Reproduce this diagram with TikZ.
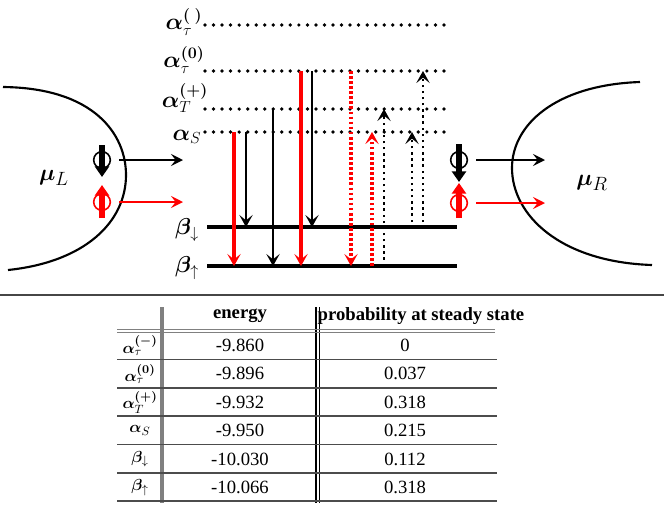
\documentclass[tikz,border=0pt]{standalone}
\usepackage{fontspec}
\setmainfont{Liberation Serif}
\usepackage{bm}
\usetikzlibrary{arrows.meta}
\definecolor{levred}{RGB}{255,0,0}
\definecolor{rulegray}{RGB}{128,128,128}
\definecolor{sepgray}{RGB}{70,70,70}

\begin{document}
\begin{tikzpicture}[x=0.75pt, y=-0.75pt, font=\fontsize{14}{16}\selectfont,
    lvdots/.style={line width=2.8pt, line cap=round, dash pattern=on 0pt off 6.4pt},
    lvline/.style={line width=3pt},
    downbk/.style={-{Stealth[length=9pt,width=10pt,inset=4pt]}, line width=1.9pt},
    downrd/.style={downbk, levred, line width=2.5pt},
    upbk/.style={downbk, line width=2.1pt, dash pattern=on 1.8pt off 2.8pt},
    uprd/.style={downrd, line width=2.3pt, dash pattern=on 2pt off 1.8pt},
    spinbk/.style={-{Triangle[length=8pt,width=10.5pt]}, line width=5pt},
    ring/.style={circle, draw, line width=1.2pt, minimum size=12.5pt, inner sep=0pt},
    tunnel/.style={-{Stealth[length=9pt,width=9pt,inset=3.5pt]}, line width=1.6pt},
    lead/.style={line width=1.6pt},
    lvlab/.style={font=\fontsize{17}{19}\selectfont, inner sep=0pt},
    hdr/.style={font=\fontsize{14}{16}\selectfont\bfseries, inner sep=0pt},
    cell/.style={inner sep=0pt}]
  \useasboundingbox (0,0) rectangle (664,504);
  % energy levels of the dot
  \draw[lvdots] (205,25) coordinate (aM) -- (450,25);
  \draw[lvdots] (205,71) coordinate (a0) -- (450,71);
  \draw[lvdots] (205,109) coordinate (aT) -- (450,109);
  \draw[lvdots] (205,132) coordinate (aS) -- (450,132);
  \draw[lvline] (207,227) coordinate (bD) -- (457,227);
  \draw[lvline] (207,266) coordinate (bU) -- (457,266);
  \node[lvlab] (lAM) at (184,22) {$\bm{\alpha}_{\tau}^{\bm{(\;)}}$};
  \node[lvlab] (lA0) at (184,60) {$\bm{\alpha}_{\tau}^{\bm{(0)}}$};
  \node[lvlab] (lAT) at (185,98) {$\bm{\alpha}_{T}^{\bm{(+)}}$};
  \node[lvlab] (lAS) at (187,137) {$\bm{\alpha}_{S}$};
  \node[lvlab] (lBD) at (187,230) {$\bm{\beta}_{\downarrow}$};
  \node[lvlab] (lBU) at (187,268) {$\bm{\beta}_{\uparrow}$};
  % relaxation (down)
  \draw[downrd] (234,0 |- aS) -- (234,0 |- bU);
  \draw[downbk] (246,0 |- aS) -- (246,0 |- bD);
  \draw[downbk] (273,0 |- aT) -- (273,0 |- bU);
  \draw[downrd] (301,0 |- a0) -- (301,0 |- bU);
  \draw[downbk] (312,0 |- a0) -- (312,0 |- bD);
  \draw[uprd]   (351,0 |- a0) -- (351,0 |- bU);
  % excitation (up)
  \draw[uprd] (372,0 |- bU) -- (372,0 |- aS);
  \draw[upbk] (384,0 |- bU) -- (384,0 |- aT);
  \draw[upbk] (412,222) -- (412,0 |- aS);
  \draw[upbk] (423,222) -- (423,0 |- a0);
  % left lead
  \draw[lead] (3,87) .. controls (95,88) and (126,135) .. (126,175)
    .. controls (126,222) and (85,262) .. (8,270);
  \node (muL) at (54,178) {\fontsize{19}{21}\selectfont$\bm{\mu}_{L}$};
  \node[ring] (rLd) at (102,160) {};
  \draw[spinbk] (102,145) -- (102,177);
  \node[ring, levred] (rLu) at (102,202) {};
  \draw[spinbk, levred] (102,218) -- (102,185);
  \coordinate (tLd) at (183,160);
  \coordinate (tLu) at (183,202);
  \draw[tunnel] ([xshift=6pt]rLd.east) -- (tLd);
  \draw[tunnel, levred] ([xshift=6pt]rLu.east) -- (tLu);
  % right lead
  \draw[lead] (640,82) .. controls (555,85) and (512,125) .. (512,168)
    .. controls (512,215) and (560,262) .. (652,265);
  \node (muR) at (592,183) {\fontsize{19}{21}\selectfont$\bm{\mu}_{R}$};
  \node[ring] (rRd) at (459,160) {};
  \draw[spinbk] (459,144) -- (459,182);
  \node[ring, levred] (rRu) at (459,203) {};
  \draw[spinbk, levred] (459,218) -- (459,183);
  \coordinate (tRd) at (545,160);
  \coordinate (tRu) at (545,203);
  \draw[tunnel] ([xshift=6pt]rRd.east) -- (tRd);
  \draw[tunnel, levred] ([xshift=6pt]rRu.east) -- (tRu);
  % separator
  \draw[sepgray, line width=1.5pt] (0,295) -- (664,295);
  % table
  \draw[rulegray, line width=2.5pt] (162,307) -- (162,503);
  \draw[line width=0.8pt] (316,307) -- (316,503) (319.5,307) -- (319.5,503);
  \draw[rulegray, line width=1pt] (117,329.5) -- (495,329.5) (117,332.5) -- (495,332.5);
  \foreach \y in {359.5,388,416,444.5,473,501}
    \draw[black!70, line width=1pt] (117,\y) -- (497,\y);
  \node[hdr] (hEn) at (240,316) {energy};
  \node[hdr] (hPr) at (421,316) {probability at steady state};
  \foreach \lab/\en/\pr [count=\i] in
      {{\bm{\alpha}_{\tau}^{\bm{(-)}}}/-9.860/0,
       {\bm{\alpha}_{\tau}^{\bm{(0)}}}/-9.896/0.037,
       {\bm{\alpha}_{T}^{\bm{(+)}}}/-9.932/0.318,
       {\bm{\alpha}_{S}}/-9.950/0.215,
       {\bm{\beta}_{\downarrow}}/-10.030/0.112,
       {\bm{\beta}_{\uparrow}}/-10.066/0.318} {
    \node[cell, font=\fontsize{13}{15}\selectfont] (lab\i) at (140,{345.5+(\i-1)*28.4}) {$\lab$};
    \node[cell] (en\i) at (240,{345.5+(\i-1)*28.4}) {\en};
    \node[cell] (pr\i) at (405,{345.5+(\i-1)*28.4}) {\pr};
  }
\end{tikzpicture}
\end{document}
